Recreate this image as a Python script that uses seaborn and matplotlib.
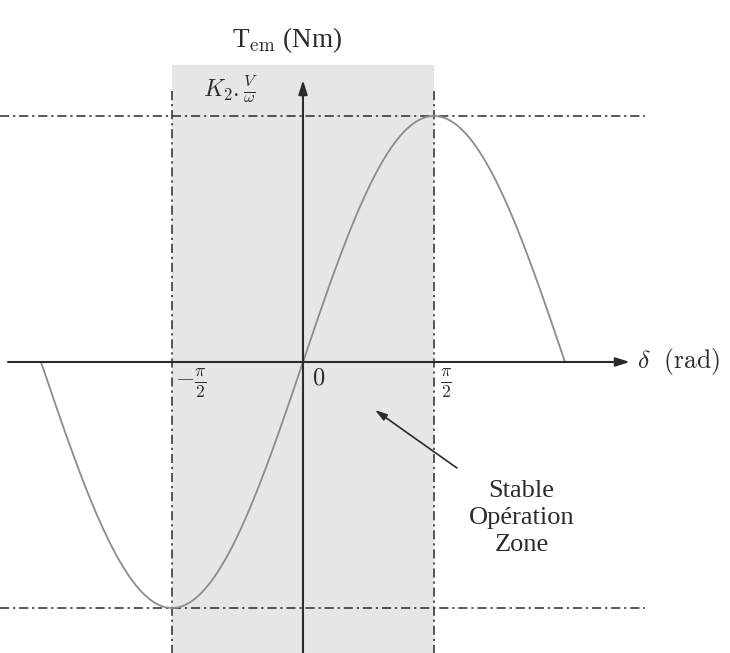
import numpy as np
import pandas as pd
import matplotlib
matplotlib.use("Agg")
import matplotlib.pyplot as plt
import seaborn as sns

# Load angle (rad) and electromagnetic torque normalised to K2.V/omega
delta_limits = [-np.pi, np.pi]
peak_torque = 1.0
stable_zone = [-np.pi / 2, np.pi / 2]
tick_positions = [-np.pi / 2, 0.0, np.pi / 2]
tick_labels = [r"$-\frac{\pi}{2}$", r"$0$", r"$\frac{\pi}{2}$"]

delta = np.linspace(delta_limits[0], delta_limits[1], 400)
torque = peak_torque * np.sin(delta)
df = pd.DataFrame({"delta": delta, "torque": torque})

sns.set_theme(style="white")
plt.rcParams["mathtext.fontset"] = "cm"
plt.rcParams["font.family"] = ["Liberation Serif", "DejaVu Serif"]

fig = plt.figure(figsize=(7.3, 6.53), dpi=100)
ax = fig.add_axes([0, 0, 1, 1])
ax.set_xlim(-3.633, 5.12)
ax.set_ylim(-1.183, 1.4715)
ax.axis("off")

ink = "#2b2b2b"

# stable operating zone
ax.fill_between(stable_zone, -1.25, 1.207, color="#e6e6e8", lw=0, zorder=0)

# torque curve
sns.lineplot(data=df, x="delta", y="torque", ax=ax, color="#8c8c8c",
             lw=1.3, zorder=3, legend=False)

# peak torque levels and zone boundaries
dash = (0, (6, 2.5, 1.5, 2.5))
for level in (peak_torque, -peak_torque):
    ax.plot([-3.633, 4.10], [level, level], color=ink, lw=1.1,
            linestyle=dash, zorder=2)
for xb in stable_zone:
    ax.plot([xb, xb], [-1.25, 1.106], color=ink, lw=1.1,
            linestyle=dash, zorder=2)

# coordinate axes with arrows
arrow = dict(arrowstyle="-|>,head_length=0.7,head_width=0.22", color=ink,
             lw=1.5, shrinkA=0, shrinkB=0)
ax.annotate("", xy=(3.92, 0), xytext=(-3.537, 0), arrowprops=arrow, zorder=4)
ax.annotate("", xy=(0, 1.146), xytext=(0, -1.25), arrowprops=arrow, zorder=4)

# axis titles
ax.text(-0.19, 1.31, r"T$_{\mathrm{em}}$ (Nm)", fontsize=19.5, color=ink,
        ha="center", va="center")
ax.text(4.0, 0.0, r"$\delta\ \ (\mathrm{rad})$", fontsize=18.5, color=ink,
        ha="left", va="center")
ax.text(-1.20, 1.11, r"$K_2.\frac{V}{\omega}$", fontsize=17, color=ink,
        ha="left", va="center")

# tick labels
offsets = [(-1.53, -0.02, 18), (0.11, -0.025, 17.5), (1.64, -0.02, 18)]
for (x, y, fs), lab in zip(offsets, tick_labels):
    ax.text(x, y, lab, fontsize=fs, color=ink, ha="left", va="top")

# annotation of the stable zone
ax.annotate("", xy=(0.863, -0.195), xytext=(1.846, -0.431),
            arrowprops=dict(arrowstyle="-|>,head_length=0.6,head_width=0.18",
                            color=ink, lw=1.2, shrinkA=0, shrinkB=0))
ax.text(2.62, -0.478, "Stable\nOpération\nZone", fontsize=19, color=ink,
        ha="center", va="top", linespacing=1.32)

fig.savefig("out.png", dpi=100)
